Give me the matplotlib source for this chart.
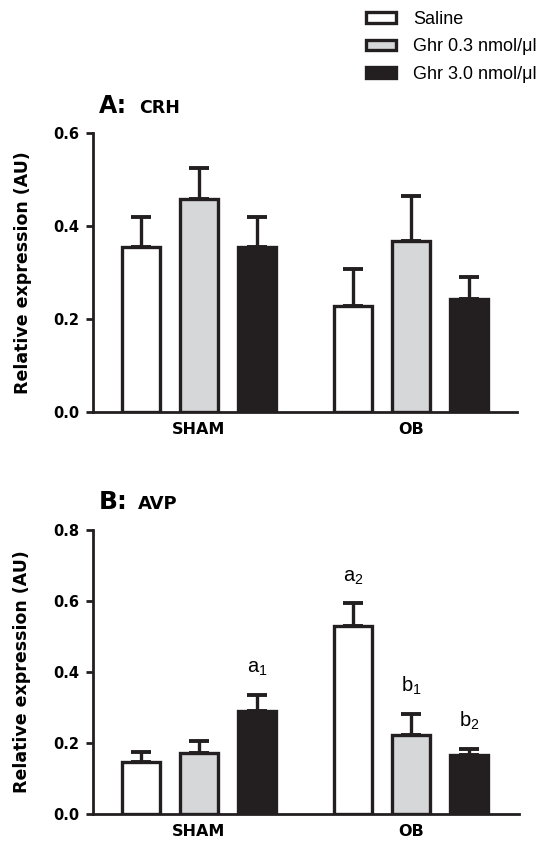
import numpy as np
import matplotlib
matplotlib.use('Agg')
import matplotlib.pyplot as plt
from matplotlib.patches import Patch

plt.rcParams['font.family'] = ['DejaVu Sans']
plt.rcParams['mathtext.fontset'] = 'custom'
plt.rcParams['mathtext.rm'] = 'Liberation Sans'

groups = ['SHAM', 'OB']
treatments = ['Saline', 'Ghr 0.3 nmol/\u03bcl', 'Ghr 3.0 nmol/\u03bcl']
keys = ['Saline', 'Ghr 0.3', 'Ghr 3.0']

# CRH (panel A)
crh_mean = {'Saline': [0.354, 0.229], 'Ghr 0.3': [0.458, 0.368], 'Ghr 3.0': [0.355, 0.244]}
crh_sem = {'Saline': [0.066, 0.078], 'Ghr 0.3': [0.067, 0.097], 'Ghr 3.0': [0.065, 0.047]}

# AVP (panel B)
avp_mean = {'Saline': [0.147, 0.530], 'Ghr 0.3': [0.172, 0.222], 'Ghr 3.0': [0.291, 0.166]}
avp_sem = {'Saline': [0.027, 0.063], 'Ghr 0.3': [0.035, 0.059], 'Ghr 3.0': [0.044, 0.018]}

# significance letters: (group index, treatment index, label)
avp_marks = [(0, 2, r'a$_\mathregular{1}$'), (1, 0, r'a$_\mathregular{2}$'),
             (1, 1, r'b$_\mathregular{1}$'), (1, 2, r'b$_\mathregular{2}$')]

colors = ['white', '#d6d7d9', '#231f20']
edge = '#231f20'
width = 0.178
offsets = [-0.273, 0.0, 0.273]


def draw_panel(ax, means, sems, ymax, yticks, xmax):
    x = np.arange(len(groups))
    for i, key in enumerate(keys):
        ax.bar(x + offsets[i], means[key], width, color=colors[i],
               edgecolor=edge, linewidth=2.4, zorder=3)
        ax.errorbar(x + offsets[i], means[key], yerr=[np.zeros(2), sems[key]],
                    fmt='none', ecolor=edge, elinewidth=2.4, capsize=7,
                    capthick=2.8, zorder=2)
    ax.set_xlim(-0.5, xmax)
    ax.set_ylim(0, ymax)
    ax.set_yticks(yticks)
    ax.set_yticklabels(['%.1f' % v for v in yticks], fontweight='bold', fontsize=10.5)
    ax.set_xticks(x)
    ax.set_xticklabels(groups, fontweight='bold', fontsize=11.5)
    ax.tick_params(axis='x', length=0, pad=7)
    ax.tick_params(axis='y', length=5, width=2, pad=5, color=edge)
    for s in ['top', 'right']:
        ax.spines[s].set_visible(False)
    for s in ['left', 'bottom']:
        ax.spines[s].set_linewidth(2)
        ax.spines[s].set_color(edge)
    ax.set_ylabel('Relative expression (AU)', fontweight='bold', fontsize=12.5)
    ax.yaxis.set_label_coords(-0.145, 0.5)


fig = plt.figure(figsize=(5.51, 8.41), dpi=100)
axA = fig.add_axes([0.1688, 0.5101, 0.7695, 0.3317])
axB = fig.add_axes([0.1688, 0.0321, 0.7731, 0.3377])

draw_panel(axA, crh_mean, crh_sem, 0.6, [0.0, 0.2, 0.4, 0.6], 1.5)
draw_panel(axB, avp_mean, avp_sem, 0.8, [0.0, 0.2, 0.4, 0.6, 0.8], 1.51)

for g, t, lab in avp_marks:
    top = avp_mean[keys[t]][g] + avp_sem[keys[t]][g]
    axB.annotate(lab, xy=(g + offsets[t], top), xytext=(0, 16),
                 textcoords='offset points', ha='center', va='baseline',
                 fontsize=14.5, family='Liberation Sans')

# panel titles: big letter + smaller gene name on the same baseline
titles = [('A:', 'CRH', 113, 17, 12.5, 139), ('B:', 'AVP', 509, 18, 13, 138)]
for letter, name, ypx, s1, s2, xname in titles:
    fig.text(99 / 551, 1 - ypx / 841, letter, fontsize=s1, fontweight='bold', va='baseline')
    fig.text(xname / 551, 1 - ypx / 841, name, fontsize=s2, fontweight='bold', va='baseline')

handles = [Patch(facecolor=colors[i], edgecolor=edge, linewidth=2.4) for i in range(3)]
fig.legend(handles, treatments, loc='upper left', bbox_to_anchor=(365.6 / 551, 1 - 10.5 / 841),
           frameon=False, prop={'family': 'Liberation Sans', 'size': 13},
           handlelength=1.7, handleheight=0.55, labelspacing=0.6,
           handletextpad=0.92, borderpad=0, borderaxespad=0)

fig.savefig('out.png', dpi=100)
